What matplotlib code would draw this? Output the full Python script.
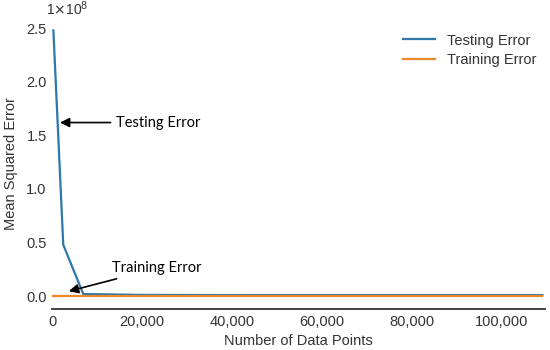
import matplotlib
matplotlib.use("Agg")
import matplotlib.pyplot as plt
from matplotlib.ticker import FuncFormatter

# Data
test_x = [250, 2450, 6900, 20000, 40000, 60000, 80000, 100000, 109000]
test_y = [2.48e8, 0.48e8, 0.02e8, 0.012e8, 0.01e8, 0.01e8, 0.01e8, 0.01e8, 0.01e8]
train_x = [250, 109000]
train_y = [0.0, 0.0]
x_ticks = [0, 20000, 40000, 60000, 80000, 100000]
y_ticks = [0.0, 0.5e8, 1.0e8, 1.5e8, 2.0e8, 2.5e8]

plt.rcParams['font.family'] = ['Liberation Sans', 'DejaVu Sans']

fig = plt.figure(figsize=(5.5, 3.5), dpi=100)
ax = fig.add_axes([0.095, 0.117, 0.895, 0.833])

ax.plot(test_x, test_y, color='#2e77a8', lw=1.6, label='Testing Error')
ax.plot(train_x, train_y, color='#e8892b', lw=1.6, label='Training Error')

ax.set_xlim(0, 109500)
ax.set_ylim(-0.12e8, 2.6e8)
ax.set_xticks(x_ticks)
ax.set_yticks(y_ticks)
ax.xaxis.set_major_formatter(FuncFormatter(lambda v, p: f"{int(v):,}"))
ax.yaxis.set_major_formatter(FuncFormatter(lambda v, p: f"{v/1e8:.1f}"))
ax.tick_params(length=0, labelsize=10.5, colors='#333333', pad=4)
for s in ['top', 'right', 'left']:
    ax.spines[s].set_visible(False)
ax.spines['bottom'].set_color('#333333')
ax.spines['bottom'].set_linewidth(1.3)

ax.set_xlabel('Number of Data Points', fontsize=10.5, color='#333333', labelpad=4)
ax.set_ylabel('Mean Squared Error', fontsize=10.5, color='#333333', labelpad=6)

ax.text(-0.013, 1.0, r'1$\times$10$^8$', transform=ax.transAxes, fontsize=10,
        color='#333333', va='bottom', ha='left')

ax.annotate('Testing Error', xy=(1100, 1.62e8), xytext=(14200, 1.62e8),
            fontsize=10.5, family=['Lato', 'DejaVu Sans'], va='center',
            arrowprops=dict(arrowstyle='-|>', color='black', lw=1.2, mutation_scale=14))
ax.annotate('Training Error', xy=(3100, 0.04e8), xytext=(13300, 0.26e8),
            fontsize=10.5, family=['Lato', 'DejaVu Sans'], va='center',
            arrowprops=dict(arrowstyle='-|>', color='black', lw=1.2, mutation_scale=14))

leg = ax.legend(loc='upper right', frameon=False, fontsize=10.5, handlelength=2.2,
                bbox_to_anchor=(1.01, 0.99), labelspacing=0.4)
for t in leg.get_texts():
    t.set_color('#333333')

fig.savefig('out.png', dpi=100)
